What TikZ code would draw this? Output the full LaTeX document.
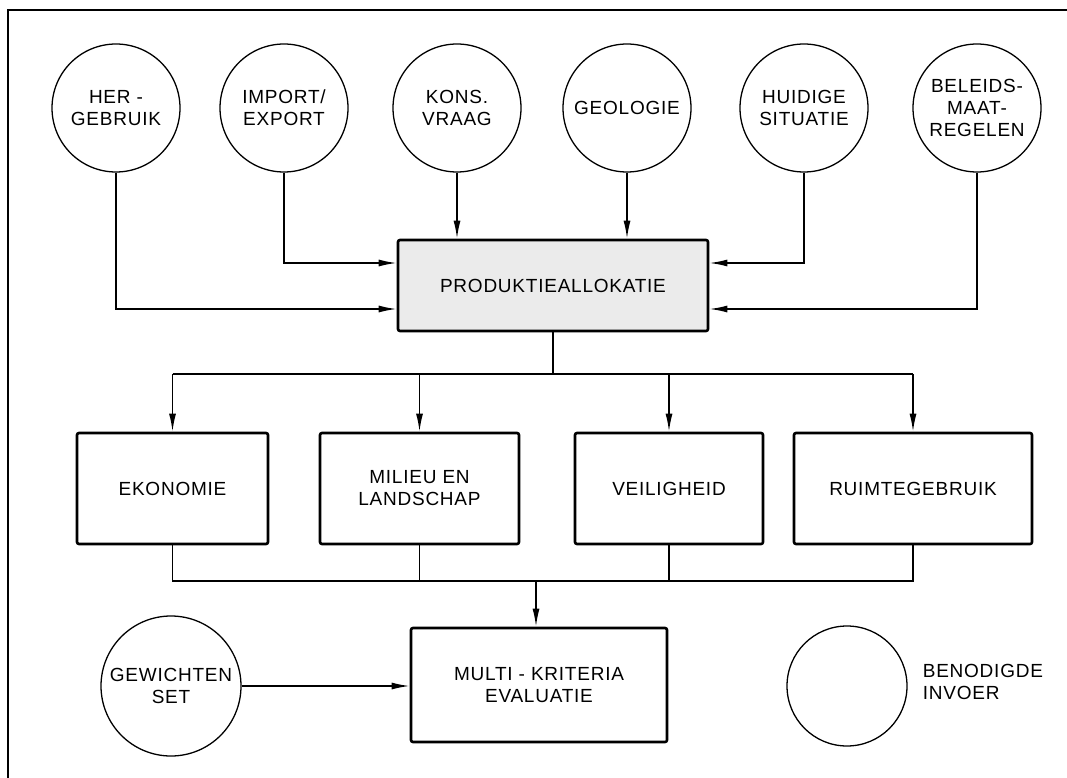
\documentclass[tikz,border=0pt]{standalone}
\usepackage{fontspec}
\setmainfont[LetterSpace=4]{Liberation Sans}
\usetikzlibrary{arrows.meta,positioning}

\tikzset{%
  every input/.style={
    circle,
    draw,
    line width=1.3pt,
    minimum size=128pt,
    inner sep=0pt,
    align=center
  },
  every stage/.style={
    rectangle,
    draw,
    line width=2.6pt,
    rounded corners=2pt,
    align=center
  },
  link/.style={
    line width=1.6pt
  },
}

\begin{document}
\begin{tikzpicture}[x=1pt, y=-1pt, >={Latex[length=18pt,width=7pt]},
  font=\fontsize{19}{22}\selectfont]
\useasboundingbox (0,0) rectangle (1067,778);

% kader
\draw [line width=1.8pt] (7.6,790) -- (7.6,10) -- (1080,10);

\foreach \m/\x/\l in {hergebruik/116/{HER -\\GEBRUIK}, import/284/{IMPORT/\\EXPORT},
    kons/457/{KONS.\\VRAAG}, geologie/627/GEOLOGIE,
    huidig/804/{HUIDIGE\\SITUATIE}, beleid/977/{BELEIDS-\\MAAT-\\REGELEN}}
  \node [every input] (\m) at (\x,108) {\l};

\node [every stage, fill=black!8, minimum width=310pt, minimum height=91pt]
  (prod) at (553,285.5) {PRODUKTIEALLOKATIE};

\foreach \m/\x/\w/\l in {ekonomie/172.5/191/EKONOMIE, milieu/419.5/199/{MILIEU EN\\LANDSCHAP},
    veiligheid/669/188/VEILIGHEID, ruimte/913/238/RUIMTEGEBRUIK}
  \node [every stage, minimum width=\w pt, minimum height=111pt] (\m) at (\x,488.5) {\l};

\node [every stage, minimum width=256pt, minimum height=114pt]
  (multi) at (539,685) {MULTI - KRITERIA\\EVALUATIE};

\node [every input, minimum size=140pt] (gewichten) at (171,686) {GEWICHTEN\\SET};

\node [every input, minimum size=120pt] (legenda) at (847,686) {};
\node [right=15pt of legenda, yshift=4pt, inner sep=0pt, align=left]
  (legenda-tekst) {BENODIGDE\\INVOER};

% invoer naar produktieallokatie
\foreach \m in {kons,geologie}
  \draw [->, link] (\m) -- (\m |- prod.north);
\draw [->, link] (import) |- ([yshift=22.5pt]prod.west);
\draw [->, link] (hergebruik) |- ([yshift=-23.5pt]prod.west);
\draw [->, link] (huidig) |- ([yshift=22.5pt]prod.east);
\draw [->, link] (beleid) |- ([yshift=-23.5pt]prod.east);

% verdeling
\coordinate (split) at (553,374);
\draw [link] (prod) -- (split);
\draw [link] (ekonomie.north |- split) -- (ruimte.north |- split);
\foreach \m in {ekonomie,milieu,veiligheid,ruimte}
  \draw [->, link] (\m.north |- split) -- (\m);

% samenvoegen
\coordinate (join) at (536,581);
\draw [link] (ekonomie) |- (ruimte.south |- join) -- (ruimte);
\foreach \m in {milieu,veiligheid}
  \draw [link] (\m) -- (\m.south |- join);
\draw [->, link] (join) -- (join |- multi.north);
\draw [->, link] (gewichten) -- (gewichten -| multi.west);

\end{tikzpicture}
\end{document}
